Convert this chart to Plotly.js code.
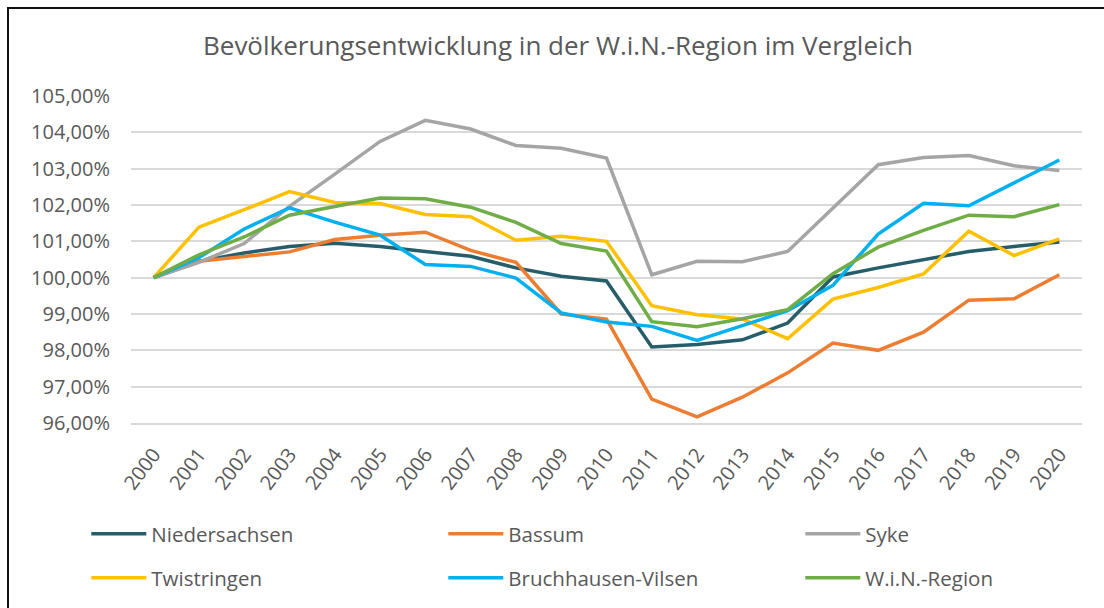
<!DOCTYPE html>
<html>
<head>
<meta charset="utf-8">
<script src="https://cdn.plot.ly/plotly-3.0.1.min.js"></script>
<style>
html,body{margin:0;padding:0;background:#fff;}
#chart{width:1104px;height:608px;position:absolute;left:0;top:0;}
#frame{position:absolute;left:7px;top:7px;width:1200px;height:700px;border-left:2px solid #111;border-top:2px solid #111;pointer-events:none;}
</style>
</head>
<body>
<div id="chart"></div>
<div id="frame"></div>
<script>
const years = ['2000','2001','2002','2003','2004','2005','2006','2007','2008','2009','2010',
               '2011','2012','2013','2014','2015','2016','2017','2018','2019','2020'];

const niedersachsen = [100.00,100.45,100.68,100.86,100.95,100.86,100.72,100.59,100.27,100.04,99.91,
                       98.09,98.16,98.29,98.75,100.02,100.27,100.50,100.72,100.86,100.98];
const bassum        = [100.00,100.45,100.58,100.71,101.05,101.17,101.25,100.75,100.42,99.00,98.86,
                       96.66,96.17,96.71,97.38,98.20,98.00,98.50,99.38,99.42,100.08];
const syke          = [100.00,100.42,100.94,101.96,102.85,103.75,104.33,104.09,103.64,103.56,103.29,
                       100.08,100.45,100.44,100.72,101.92,103.11,103.31,103.36,103.08,102.95];
const twistringen   = [100.00,101.39,101.87,102.37,102.07,102.04,101.74,101.68,101.03,101.14,101.00,
                       99.23,98.98,98.86,98.32,99.41,99.73,100.10,101.28,100.61,101.07];
const bruchhausen   = [100.00,100.55,101.34,101.92,101.53,101.17,100.36,100.31,99.99,99.03,98.78,
                       98.66,98.27,98.69,99.09,99.79,101.20,102.05,101.98,102.61,103.24];
const winRegion     = [100.00,100.63,101.12,101.72,101.96,102.19,102.17,101.94,101.52,100.94,100.73,
                       98.79,98.65,98.87,99.12,100.11,100.84,101.30,101.72,101.68,102.01];

const seriesNames = ['Niedersachsen','Bassum','Syke','Twistringen','Bruchhausen-Vilsen','W.i.N.-Region'];
const seriesData  = [niedersachsen, bassum, syke, twistringen, bruchhausen, winRegion];
const colors      = ['#255E6A','#ED7D31','#A5A5A5','#FFC000','#00B0F0','#70AD47'];
const legendOf    = ['legend','legend','legend','legend2','legend2','legend2'];

const yTicks = [96,97,98,99,100,101,102,103,104,105];
const yTickText = yTicks.map(v => v.toFixed(2).replace('.', ',') + '%');

const FONT = 'Open Sans, Noto Sans, sans-serif';
const GREY = '#595959';

const traces = seriesNames.map((n,i)=>{
  const t = {
    type:'scatter', mode:'lines', name:n, x:years, y:seriesData[i],
    line:{color:colors[i], width:3.5, shape:'linear'},
    legend: legendOf[i], hoverinfo:'x+y+name'
  };
  if (i % 3 === 2) t.legendwidth = 170;
  return t;
});

const legendCommon = {
  orientation:'h', xanchor:'left', yanchor:'middle', x:-0.047,
  font:{family:FONT, size:20.5, color:GREY},
  entrywidth:287, itemwidth:55, bgcolor:'rgba(0,0,0,0)', borderwidth:0,
  traceorder:'normal'
};

const layout = {
  width:1104, height:608,
  paper_bgcolor:'#ffffff', plot_bgcolor:'#ffffff',
  separators:',.',
  margin:{l:131, r:22, t:96, b:185, autoexpand:false},
  title:{text:'Bevölkerungsentwicklung in der W.i.N.-Region im Vergleich',
         font:{family:FONT, size:26, color:GREY},
         x:558/1104, xanchor:'center', y:1-46/608, yanchor:'middle', xref:'container', yref:'container'},
  xaxis:{type:'category', range:[-0.5,20.5], showgrid:false, zeroline:false,
         showline:true, linecolor:'#d9d9d9', linewidth:1.5,
         ticks:'', tickangle:-53, ticklabelstandoff:10,
         tickfont:{family:FONT, size:20, color:GREY},
         fixedrange:true},
  yaxis:{range:[96,105], tickvals:yTicks, ticktext:yTickText,
         showgrid:true, gridcolor:'#d9d9d9', gridwidth:1.5, zeroline:false,
         showline:false, ticks:'', ticklabelstandoff:20,
         tickfont:{family:FONT, size:20, color:GREY}, fixedrange:true},
  legend:Object.assign({}, legendCommon, {y:(423-534)/327}),
  legend2:Object.assign({}, legendCommon, {y:(423-578)/327}),
  showlegend:true
};

Plotly.newPlot('chart', traces, layout, {displayModeBar:false});
</script>
</body>
</html>
